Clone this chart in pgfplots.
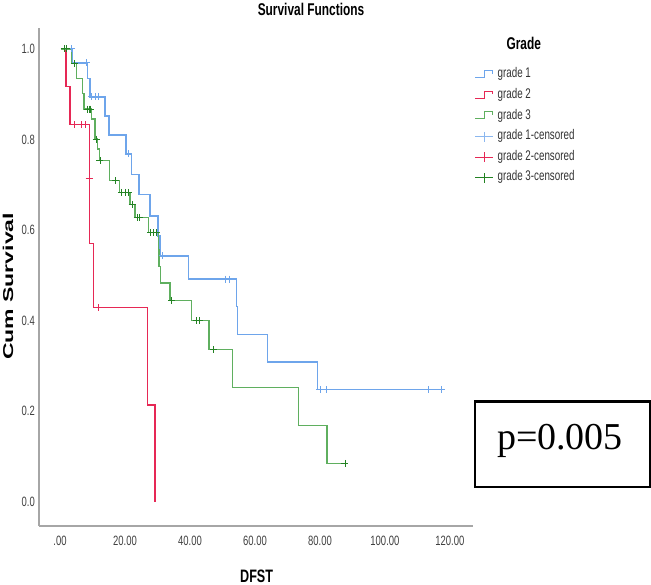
\documentclass[border=0pt]{standalone}
\usepackage{fontspec}
\setmainfont{Liberation Sans}
\newfontfamily\narrow[FakeStretch=0.7]{Liberation Sans}
\newfontfamily\narrowb[FakeStretch=0.7]{Liberation Sans Bold}
\newfontfamily\pfont{Liberation Serif}
\usepackage{graphicx}
\usepackage{pgfplots}
\pgfplotsset{compat=1.18}
\definecolor{gblue}{RGB}{110,165,235}
\definecolor{gred}{RGB}{230,40,85}
\definecolor{ggreen}{RGB}{95,175,95}
\definecolor{ggreenm}{RGB}{35,130,35}
\begin{document}
\begin{tikzpicture}[x=1pt,y=1pt]
\useasboundingbox (0,0) rectangle (651,585);
\begin{axis}[
  at={(39pt,59pt)}, anchor=south west,
  scale only axis, width=434pt, height=498pt,
  xmin=-6.46, xmax=127.1, ymin=-0.053, ymax=1.046,
  axis x line=bottom, axis y line=left,
  axis line style={-, draw=black!35, line width=1.3pt},
  xtick={0,20,40,60,80,100,120},
  xticklabels={.00,20.00,40.00,60.00,80.00,100.00,120.00},
  ytick={0,0.2,0.4,0.6,0.8,1.0},
  yticklabels={0.0,0.2,0.4,0.6,0.8,1.0},
  major tick length=0pt,
  tick label style={font=\narrow\fontsize{13.5}{14}\selectfont, text=black!75},
  xticklabel style={inner sep=0pt, anchor=north, yshift=-10pt},
  yticklabel style={inner sep=0pt, anchor=east, xshift=-4pt},
  clip=false,
  legend cell align=left,
  legend style={at={(axis description cs:1.0046,0.9197)}, anchor=north west,
    draw=none, fill=none, inner sep=0pt, outer sep=0pt,
    font=\narrow\fontsize{14}{15}\selectfont, text=black!80,
    row sep=7pt, nodes={inner sep=0pt, text height=10pt, text depth=3.6pt},
    /tikz/every odd column/.append style={column sep=3.7pt}},
]
\addplot[const plot, gblue, line width=1.35pt,
  legend image code/.code={\draw[gblue,line width=1pt] (0pt,-3pt) -- (9pt,-3pt) -- (9pt,4pt) -- (17pt,4pt) -- (17pt,1pt);}]
  coordinates {(0.3,1.0) (3.8,0.969) (8.4,0.934) (9.2,0.894) (13.8,0.852) (15.1,0.810) (20.3,0.768) (22.1,0.723) (24.3,0.679) (27.7,0.631) (30.2,0.587) (30.8,0.543) (39.5,0.492) (54.4,0.431) (54.7,0.369) (63.8,0.309) (79.2,0.248) (117.4,0.248)};
\addlegendentry{grade 1}
\addplot[const plot, gred, line width=1.35pt,
  legend image code/.code={\draw[gred,line width=1pt] (0pt,-3pt) -- (9pt,-3pt) -- (9pt,4pt) -- (17pt,4pt) -- (17pt,1pt);}]
  coordinates {(0.3,1.0) (1.8,0.917) (3.1,0.833) (9.0,0.714) (9.0,0.571) (10.3,0.429) (27.0,0.214) (29.2,0.0)};
\addlegendentry{grade 2}
\addplot[const plot, ggreen, line width=1.35pt,
  legend image code/.code={\draw[ggreen,line width=1pt] (0pt,-3pt) -- (9pt,-3pt) -- (9pt,4pt) -- (17pt,4pt) -- (17pt,1pt);}]
  coordinates {(0.3,1.0) (3.6,0.967) (5.1,0.934) (7.0,0.902) (7.4,0.867) (9.7,0.845) (10.8,0.801) (11.5,0.779) (12.1,0.753) (15.2,0.709) (18.3,0.683) (21.5,0.657) (23.1,0.628) (27.2,0.594) (30.3,0.557) (30.5,0.519) (30.9,0.483) (33.8,0.445) (40.5,0.401) (45.9,0.336) (53.0,0.252) (73.3,0.169) (82.2,0.085) (87.7,0.085)};
\addlegendentry{grade 3}
\addplot[only marks, mark=+, mark size=3.5pt, gblue, mark options={line width=0.9pt},
  legend image code/.code={\draw[gblue!80,line width=1pt] (0pt,0pt) -- (18pt,0pt); \draw[gblue!80,line width=1pt] (9pt,-5pt) -- (9pt,5pt);}]
  coordinates {(3.4,1.0) (8.2,0.969) (9.7,0.894) (10.8,0.894) (11.8,0.894) (21.0,0.768) (31.6,0.543) (50.8,0.492) (52.1,0.492) (80.0,0.248) (82.0,0.248) (113.3,0.248) (117.4,0.248)};
\addlegendentry{grade 1-censored}
\addplot[only marks, mark=+, mark size=3.5pt, gred, mark options={line width=0.9pt},
  legend image code/.code={\draw[gred,line width=1pt] (0pt,0pt) -- (18pt,0pt); \draw[gred,line width=1pt] (9pt,-5pt) -- (9pt,5pt);}]
  coordinates {(4.6,0.833) (6.7,0.833) (7.7,0.833) (9.0,0.714) (11.8,0.429)};
\addlegendentry{grade 2-censored}
\addplot[only marks, mark=+, mark size=3.5pt, ggreenm, mark options={line width=0.9pt},
  legend image code/.code={\draw[ggreenm,line width=1pt] (0pt,0pt) -- (18pt,0pt); \draw[ggreenm,line width=1pt] (9pt,-5pt) -- (9pt,5pt);}]
  coordinates {(1.5,1.0) (2.1,1.0) (4.4,0.967) (8.6,0.867) (9.0,0.867) (9.4,0.867) (11.1,0.801) (12.3,0.753) (17.2,0.709) (19.0,0.683) (20.0,0.683) (21.0,0.683) (22.2,0.657) (23.7,0.628) (24.6,0.628) (27.9,0.594) (28.7,0.594) (29.7,0.594) (34.4,0.445) (42.0,0.401) (42.9,0.401) (47.2,0.336) (87.7,0.085)};
\addlegendentry{grade 3-censored}
\end{axis}
\node[font=\narrowb\fontsize{17}{17}\selectfont, inner sep=0pt] at (311,576) {Survival Functions};
\node[font=\narrowb\fontsize{17}{17}\selectfont, inner sep=0pt] at (523.7,542) {Grade};
\node[font=\narrowb\fontsize{18}{18}\selectfont, inner sep=0pt, anchor=west] at (240,8.5) {DFST};
\node[rotate=90, inner sep=0pt] at (8,298.5) {\scalebox{1}[0.62]{\fontsize{23}{23}\selectfont\bfseries Cum Survival}};
\draw[line width=2.5pt] (475,98) rectangle (650,183.3);
\node[font=\pfont\fontsize{38}{38}\selectfont, anchor=base, inner sep=0pt] at (560,135) {p=0.005};
\end{tikzpicture}
\end{document}
